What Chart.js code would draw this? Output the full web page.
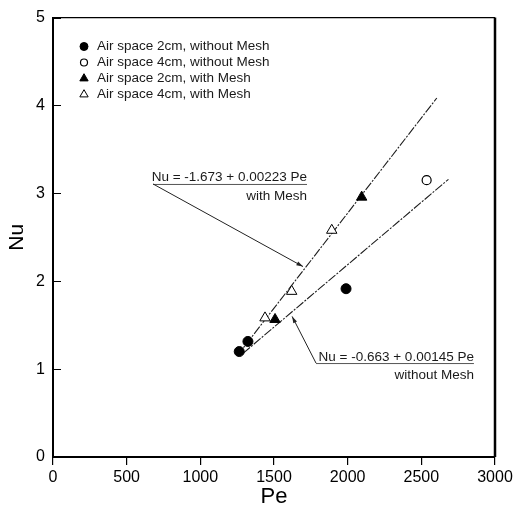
<!DOCTYPE html>
<html>
<head>
<meta charset="utf-8">
<script src="https://cdn.jsdelivr.net/npm/chart.js@4.4.1/dist/chart.umd.min.js"></script>
<style>
html, body { margin: 0; padding: 0; background: #fff; }
</style>
</head>
<body>
<canvas id="grafico" width="519" height="515"></canvas>
<script>
// valores
const seriesLabels = [
    'Air space 2cm, without Mesh',
    'Air space 4cm, without Mesh',
    'Air space 2cm, with Mesh',
    'Air space 4cm, with Mesh'
]

const pe2cmSinMalla = [1264, 1323, 1989]
const nu2cmSinMalla = [1.20, 1.315, 1.915]

const pe4cmSinMalla = [2536]
const nu4cmSinMalla = [3.15]

const pe2cmConMalla = [1507, 2095]
const nu2cmConMalla = [1.565, 2.957]

const pe4cmConMalla = [1439, 1620, 1892]
const nu4cmConMalla = [1.583, 1.885, 2.58]

// rectas de ajuste (extremos leidos)
const peAjusteConMalla = [1249, 2605]
const nuAjusteConMalla = [1.15, 4.085]
const peAjusteSinMalla = [1290, 2684]
const nuAjusteSinMalla = [1.18, 3.16]

const xTicks = [0, 500, 1000, 1500, 2000, 2500, 3000]
const yTicks = [0, 1, 2, 3, 4, 5]

const ecuaciones = [
    { texto: 'Nu = -1.673 + 0.00223 Pe', sub: 'with Mesh' },
    { texto: 'Nu = -0.663 + 0.00145 Pe', sub: 'without Mesh' }
]

const FUENTE = '"Liberation Sans", Arial, Helvetica, sans-serif'

const toXY = (xs, ys) => xs.map((x, i) => ({ x, y: ys[i] }))

// posiciones de las anotaciones en unidades de los ejes
const anotaciones = [
    { desde: [679, 3.107], hasta: [1724, 3.107], punta: [1697, 2.167] },
    { desde: [1785, 1.069], hasta: [2857, 1.069], punta: [1623, 1.60] }
]

const estilosMarcador = [
    { pointStyle: 'circle', radius: 5, fill: '#000', stroke: '#000', lw: 1, legendR: 4 },
    { pointStyle: 'circle', radius: 4.5, fill: '#fff', stroke: '#000', lw: 1.2, legendR: 3.5 },
    { pointStyle: 'triangle', radius: 6, fill: '#000', stroke: '#000', lw: 1, legendR: 4.8 },
    { pointStyle: 'triangle', radius: 6, fill: '#fff', stroke: '#000', lw: 1, legendR: 4.8 }
]

const datosSeries = [
    toXY(pe2cmSinMalla, nu2cmSinMalla),
    toXY(pe4cmSinMalla, nu4cmSinMalla),
    toXY(pe2cmConMalla, nu2cmConMalla),
    toXY(pe4cmConMalla, nu4cmConMalla)
]

const datasets = datosSeries.map((data, i) => ({
    label: seriesLabels[i],
    data,
    pointStyle: estilosMarcador[i].pointStyle,
    pointRadius: estilosMarcador[i].radius,
    pointBackgroundColor: estilosMarcador[i].fill,
    pointBorderColor: estilosMarcador[i].stroke,
    pointBorderWidth: estilosMarcador[i].lw,
    showLine: false
}))

const lineaAjuste = (xs, ys) => ({
    label: 'ajuste',
    data: toXY(xs, ys),
    showLine: true,
    pointRadius: 0,
    borderColor: '#1e1e1e',
    borderWidth: 1.1,
    borderDash: [9, 1.5, 2, 1.5],
    fill: false
})

datasets.push(lineaAjuste(peAjusteConMalla, nuAjusteConMalla))
datasets.push(lineaAjuste(peAjusteSinMalla, nuAjusteSinMalla))

function flecha(ctx, x0, y0, x1, y1) {
    const ang = Math.atan2(y1 - y0, x1 - x0)
    const L = 7
    ctx.beginPath()
    ctx.moveTo(x0, y0)
    ctx.lineTo(x1, y1)
    ctx.stroke()
    ctx.beginPath()
    ctx.moveTo(x1, y1)
    ctx.lineTo(x1 - L * Math.cos(ang - 0.3), y1 - L * Math.sin(ang - 0.3))
    ctx.lineTo(x1 - L * Math.cos(ang + 0.3), y1 - L * Math.sin(ang + 0.3))
    ctx.closePath()
    ctx.fill()
}

const marcoPlugin = {
    id: 'marco',
    afterDraw(chart) {
        const { ctx, chartArea: a, scales: { x, y } } = chart
        ctx.save()
        ctx.strokeStyle = '#000'
        ctx.lineWidth = 1.2
        ctx.beginPath()
        ctx.moveTo(a.left, a.top)
        ctx.lineTo(a.right, a.top)
        ctx.stroke()
        ctx.lineWidth = 2.5
        ctx.beginPath()
        ctx.moveTo(a.right, a.top)
        ctx.lineTo(a.right, a.bottom)
        ctx.stroke()

        // marcas del eje y hacia dentro
        ctx.lineWidth = 1.2
        ctx.beginPath()
        yTicks.forEach(v => {
            const py = Math.round(y.getPixelForValue(v)) + 0.5
            ctx.moveTo(a.left, py)
            ctx.lineTo(a.left + 8, py)
        })
        ctx.stroke()

        // leyenda
        ctx.font = '13.5px ' + FUENTE
        ctx.textBaseline = 'middle'
        ctx.textAlign = 'left'
        const filas = [46.5, 62.5, 78.5, 94.5]
        seriesLabels.forEach((lab, i) => {
            const e = estilosMarcador[i]
            ctx.fillStyle = e.fill
            ctx.strokeStyle = e.stroke
            ctx.lineWidth = e.lw
            Chart.helpers.drawPoint(ctx, { pointStyle: e.pointStyle, radius: e.legendR, rotation: 0, borderWidth: e.lw }, 84, filas[i])
            ctx.fillStyle = '#1a1a1a'
            ctx.fillText(lab, 97, filas[i])
        })

        // ecuaciones con flechas
        anotaciones.forEach((an, i) => {
            const x0 = x.getPixelForValue(an.desde[0])
            const x1 = x.getPixelForValue(an.hasta[0])
            const yy = y.getPixelForValue(an.desde[1])
            const tx = x.getPixelForValue(an.punta[0])
            const ty = y.getPixelForValue(an.punta[1])

            ctx.strokeStyle = '#555'
            ctx.lineWidth = 1
            ctx.beginPath()
            ctx.moveTo(x0, yy + 0.5)
            ctx.lineTo(x1, yy + 0.5)
            ctx.stroke()

            ctx.strokeStyle = '#222'
            ctx.fillStyle = '#222'
            flecha(ctx, x0, yy, tx, ty)

            ctx.fillStyle = '#1a1a1a'
            ctx.textAlign = 'right'
            ctx.textBaseline = 'alphabetic'
            ctx.fillText(ecuaciones[i].texto, x1, yy - 2.5)
            ctx.fillText(ecuaciones[i].sub, x1, yy + 16)
        })
        ctx.restore()
    }
}

new Chart(document.getElementById('grafico'), {
    type: 'scatter',
    data: { datasets },
    plugins: [marcoPlugin],
    options: {
        responsive: false,
        animation: false,
        layout: { padding: { top: 14, right: 24, left: 0, bottom: 0 } },
        plugins: {
            legend: { display: false },
            tooltip: { enabled: false }
        },
        scales: {
            x: {
                type: 'linear',
                min: 0,
                max: 3000,
                afterBuildTicks: s => { s.ticks = xTicks.map(v => ({ value: v })) },
                afterFit: s => { s.height = 58 },
                ticks: { color: '#000', font: { size: 16, family: FUENTE }, padding: 3, maxRotation: 0, callback: v => String(v) },
                grid: { drawOnChartArea: false, drawTicks: true, tickLength: 8, color: '#000', lineWidth: 1.2 },
                border: { color: '#000', width: 2 },
                title: { display: true, text: 'Pe', color: '#000', font: { size: 22, family: FUENTE }, padding: { top: 0, bottom: 5 } }
            },
            y: {
                type: 'linear',
                min: 0,
                max: 5,
                afterBuildTicks: s => { s.ticks = yTicks.map(v => ({ value: v })) },
                afterFit: s => { s.width = 53 },
                ticks: { color: '#000', font: { size: 16, family: FUENTE }, padding: 8, callback: v => String(v) },
                grid: { drawOnChartArea: false, drawTicks: false },
                border: { color: '#000', width: 2 },
                title: { display: true, text: 'Nu', color: '#000', font: { size: 21, family: FUENTE }, padding: { top: 5, bottom: 0 } }
            }
        }
    }
})
</script>
</body>
</html>
